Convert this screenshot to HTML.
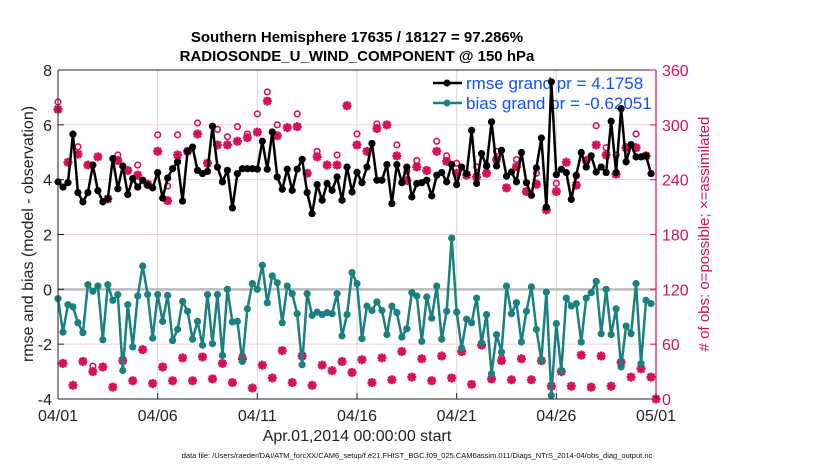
<!DOCTYPE html>
<html><head><meta charset="utf-8"><style>
body{margin:0;background:#fff;}
svg{display:block;font-family:"Liberation Sans",Arial,sans-serif;}
</style></head><body>
<svg id="chart" width="830" height="470" viewBox="0 0 830 470" xmlns="http://www.w3.org/2000/svg"></svg>
<script>
// ---- data ----
const xTickLabels = ["04/01","04/06","04/11","04/16","04/21","04/26","05/01"];
const xTickDays = [0,5,10,15,20,25,30];
const yLeftTicks = [-4,-2,0,2,4,6,8];
const yRightTicks = [0,60,120,180,240,300,360];
const rmse = [3.92,3.73,3.89,5.66,3.53,3.19,3.53,4.53,3.60,3.19,3.30,4.77,3.67,4.50,3.46,4.04,3.73,3.98,3.80,3.70,
4.26,3.33,4.06,4.40,4.65,3.22,5.04,5.19,4.34,4.22,4.30,5.95,4.46,3.92,4.34,2.97,4.22,4.40,4.40,4.40,
4.38,5.40,4.38,5.74,4.10,3.65,4.38,3.61,4.38,4.74,3.53,2.76,3.82,3.25,3.86,3.61,4.10,3.25,4.46,3.55,
4.27,3.89,4.46,5.32,3.98,3.98,4.55,3.13,4.55,3.89,4.46,3.37,3.86,3.89,3.98,3.41,4.16,4.26,3.92,4.55,
3.82,4.46,4.22,5.80,3.86,4.95,4.49,6.11,4.50,5.07,4.13,4.28,3.92,4.99,3.89,3.43,4.43,5.52,3.00,7.57,
4.18,4.38,4.26,3.28,4.16,4.99,4.46,4.87,4.28,4.46,4.26,6.13,4.26,6.59,4.65,5.28,4.83,4.83,4.87,4.22];
const bias = [-0.34,-1.56,-0.56,-0.64,-1.22,-1.58,0.17,-0.07,0.12,-1.84,0.17,-0.40,-0.19,-2.96,-0.56,-2.10,-0.24,0.85,-0.19,-1.78,
-0.19,-1.17,-0.22,-1.87,-1.46,-0.44,-0.80,-1.82,-1.17,-2.04,-0.19,-1.98,-0.19,-2.41,0.0,-1.19,-1.17,-2.63,-0.71,0.21,
0.0,0.88,-0.49,0.49,0.24,-1.22,0.12,-0.16,-0.89,-2.75,-0.16,-0.95,-0.83,-0.92,-0.85,-0.89,-0.16,-1.70,-0.92,0.61,
0.21,-1.80,-0.61,-0.77,-0.46,-0.77,-1.65,-0.61,-0.85,-1.74,-1.44,-0.12,-0.24,-1.90,-0.28,-1.05,0.12,-1.82,-0.80,1.87,
-0.83,-2.14,-1.09,-1.22,-0.32,-1.95,-0.92,-3.08,-1.65,-2.29,0.12,-0.89,-0.49,-1.92,-0.80,0.09,-1.46,-2.59,-0.10,-3.87,
-1.25,-2.96,-0.32,-0.61,-0.52,-1.92,-0.32,-0.12,0.29,-1.62,0.0,-1.65,-0.71,-2.83,-1.34,-1.62,0.21,-2.71,-0.40,-0.52];
const nPossible = [325,39,259,15,276,41,256,36,265,35,219,13,267,42,250,20,256,54,235,17,
289,35,233,20,289,45,271,20,302,46,258,22,295,39,287,18,298,47,290,12,
312,37,336,23,300,53,297,18,312,48,247,15,271,37,256,31,267,41,321,29,
290,43,271,18,301,45,300,21,278,52,249,24,261,44,250,20,282,47,266,23,
258,52,245,16,254,59,256,24,271,45,231,21,262,44,227,21,247,42,207,14,
236,30,259,14,244,48,261,13,299,47,275,14,267,40,275,24,290,33,266,24,0];
const nAssim = [317,39,259,15,268,41,256,30,265,35,219,13,261,42,250,20,245,54,235,17,
271,35,217,20,267,45,271,20,290,46,258,22,278,39,278,18,282,44,286,12,
292,37,326,23,288,53,297,18,298,47,247,15,265,37,256,31,256,41,321,29,
278,43,271,18,296,45,300,21,266,52,239,24,254,44,250,20,271,47,260,23,
247,52,245,16,243,59,247,22,262,42,231,21,254,44,227,21,235,42,207,14,
227,30,259,14,234,48,261,13,278,47,267,14,246,40,275,24,275,33,266,24,0];

// ---- layout ----
const L=58,R=656,T=70,B=399;
const NS="http://www.w3.org/2000/svg";
const svg=document.getElementById('chart');
const xDay=d=>L+(R-L)*d/30;
const xIdx=i=>xDay(i*0.25);
const yL=v=>B-(v+4)/12*(B-T);
const yR=c=>B-c/360*(B-T);
function mk(tag,attrs,parent){const e=document.createElementNS(NS,tag);for(const k in attrs)e.setAttribute(k,attrs[k]);(parent||svg).appendChild(e);return e;}

// grid
const grid=mk('g',{});


yLeftTicks.forEach(v=>{if(v>-4&&v<8&&v!==0){const l=mk('line',{x1:L,x2:R,y1:yL(v),y2:yL(v),stroke:'#f2d0dc','stroke-width':1},grid);

}});
xTickDays.forEach(d=>{if(d>0&&d<30){const l=mk('line',{x1:xDay(d),x2:xDay(d),y1:T,y2:B,stroke:'#d8d8d8','stroke-width':1},grid);

}});
const zl=mk('line',{x1:L,x2:R,y1:yL(0),y2:yL(0),stroke:'#bbbbbb','stroke-width':2.5});



// legend (behind data)
const lg=mk('g',{});


[['#000','rmse grand pr = 4.1758',83],['#1a8080','bias grand pr = -0.62051',103]].forEach((r,k)=>{
 const e=mk('g',{},lg);
 
 
 mk('line',{x1:433,x2:462,y1:r[2],y2:r[2],stroke:r[0],'stroke-width':2.5},e);
 mk('circle',{cx:447,cy:r[2],r:3.5,fill:r[0]},e);
 const t=mk('text',{x:466,y:r[2]+6,'font-size':17,fill:'#1150ff'},e);t.textContent=r[1];
});

// obs markers
const obs=mk('g',{});


const pink='#d6115a';
nPossible.forEach((c,i)=>{
 const x=xIdx(i);
 if(nPossible[i]!==nAssim[i]){const o=mk('circle',{cx:x,cy:yR(c),r:2.8,fill:'none',stroke:pink,'stroke-width':1.6},obs);
 
 }
 const a=nAssim[i],y=yR(a);
 const s=mk('path',{d:`M${x-4.5},${y}L${x+4.5},${y}M${x},${y-4.5}L${x},${y+4.5}M${x-3.3},${y-3.3}L${x+3.3},${y+3.3}M${x-3.3},${y+3.3}L${x+3.3},${y-3.3}`,stroke:pink,'stroke-width':2.6},obs);
 
 
});

// lines
function series(vals,color,name){
 const g=mk('g',{});
 
 
 mk('polyline',{points:vals.map((v,i)=>xIdx(i)+','+yL(v)).join(' '),fill:'none',stroke:color,'stroke-width':2.5,'stroke-linejoin':'round'},g);
 vals.forEach((v,i)=>{const c=mk('circle',{cx:xIdx(i),cy:yL(v),r:3.6,fill:color},g);
 
 });
}
series(bias,'#1a8080','bias-line');
series(rmse,'#000000','rmse-line');

// axes
const ax=mk('g',{});


mk('line',{x1:L,x2:R,y1:T,y2:T,stroke:'#222','stroke-width':1},ax);
mk('line',{x1:L,x2:R,y1:B,y2:B,stroke:'#222','stroke-width':1},ax);
mk('line',{x1:L,x2:L,y1:T,y2:B,stroke:'#222','stroke-width':1},ax);
mk('line',{x1:R,x2:R,y1:T,y2:B,stroke:pink,'stroke-width':1.2},ax);
yLeftTicks.forEach(v=>{mk('line',{x1:L,x2:L+6,y1:yL(v),y2:yL(v),stroke:'#222'},ax);
 const t=mk('text',{x:L-6,y:yL(v)+6,'font-size':16,'text-anchor':'end',fill:'#222'},ax);t.textContent=v;
 
 });
yRightTicks.forEach(c=>{mk('line',{x1:R-6,x2:R,y1:yR(c),y2:yR(c),stroke:pink},ax);
 const t=mk('text',{x:R+6,y:yR(c)+6,'font-size':16,fill:pink},ax);t.textContent=c;
 
 });
xTickDays.forEach((d,k)=>{mk('line',{x1:xDay(d),x2:xDay(d),y1:B,y2:B-6,stroke:'#222'},ax);
 const t=mk('text',{x:xDay(d),y:B+22,'font-size':16,'text-anchor':'middle',fill:'#222'},ax);t.textContent=xTickLabels[k];
 
 });
</script>
<svg style="position:absolute;left:0;top:0" width="830" height="470">
<text x="357" y="42" font-size="15" font-weight="bold" text-anchor="middle" font-family="Liberation Sans, sans-serif">Southern Hemisphere 17635 / 18127 = 97.286%</text>
<text x="357" y="61" font-size="15" font-weight="bold" text-anchor="middle" font-family="Liberation Sans, sans-serif">RADIOSONDE_U_WIND_COMPONENT @ 150 hPa</text>
<text x="357" y="441" font-size="16" text-anchor="middle" fill="#222" font-family="Liberation Sans, sans-serif">Apr.01,2014 00:00:00 start</text>
<text transform="translate(33,234) rotate(-90)" font-size="16" text-anchor="middle" fill="#222" font-family="Liberation Sans, sans-serif">rmse and bias (model - observation)</text>
<text transform="translate(709,234) rotate(-90)" font-size="15" text-anchor="middle" fill="#d6115a" font-family="Liberation Sans, sans-serif"># of obs: o=possible; ×=assimilated</text>
<text x="417" y="458" font-size="7.5" text-anchor="middle" fill="#111" font-family="Liberation Sans, sans-serif">data file: /Users/raeder/DAI/ATM_forcXX/CAM6_setup/f.e21.FHIST_BGC.f09_025.CAM6assim.011/Diags_NTrS_2014-04/obs_diag_output.nc</text>
</svg>
</body></html>
